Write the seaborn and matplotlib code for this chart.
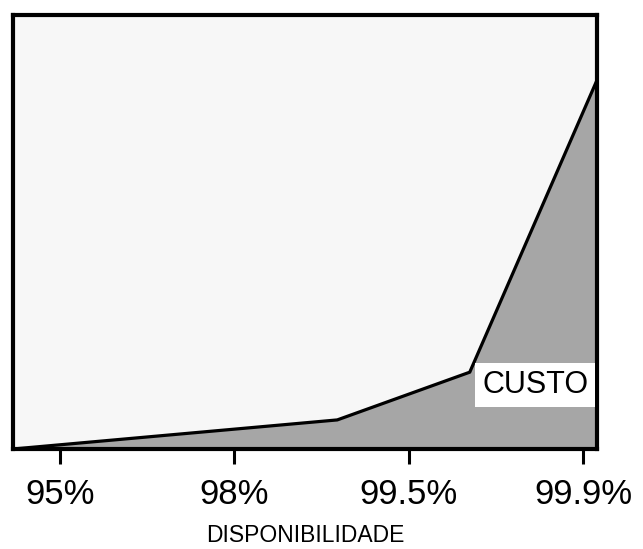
import matplotlib
matplotlib.use("Agg")
import matplotlib.pyplot as plt
import seaborn as sns
import pandas as pd

# Data (x = position along the availability axis, ticks at 0..3)
disponibilidade_pos = [-0.27, 1.59, 2.35, 3.08]
custo = [0.0, 6.7, 17.7, 85.0]
tick_pos = [0, 1, 2, 3]
tick_labels = ["95%", "98%", "99.5%", "99.9%"]

df = pd.DataFrame({"disp": disponibilidade_pos, "custo": custo})

sns.set_theme(style="white")
plt.rcParams["font.family"] = ["Liberation Sans", "DejaVu Sans"]
plt.rcParams["text.color"] = "black"
plt.rcParams["xtick.color"] = "black"
plt.rcParams["axes.labelcolor"] = "black"

fig = plt.figure(figsize=(6.43, 5.49), dpi=100)
ax = fig.add_axes([13/643, 1 - 449/549, (597-13)/643, (449-15)/549])
ax.set_facecolor("#f7f7f7")

ax.fill_between(df["disp"], df["custo"], 0, color="#a6a6a6", linewidth=0)
sns.lineplot(data=df, x="disp", y="custo", ax=ax, color="black", linewidth=2.3,
             estimator=None, sort=False)

ax.set_xlim(-0.27, 3.08)
ax.set_ylim(0, 100)
ax.set_yticks([])
ax.set_xticks(tick_pos)
ax.set_xticklabels(tick_labels, fontsize=25, color="black")
ax.tick_params(axis="x", length=11, width=2.2, color="black", pad=10, bottom=True)
ax.set_ylabel("")
ax.set_xlabel("DISPONIBILIDADE", fontsize=16.5, color="black")
ax.xaxis.set_label_coords(0.5, -0.172)

for s in ax.spines.values():
    s.set_visible(True)
    s.set_color("black")
    s.set_linewidth(3)

ax.text(0.894, 0.147, "CUSTO", transform=ax.transAxes, fontsize=22,
        ha="center", va="center", color="black",
        bbox=dict(facecolor="white", edgecolor="none", pad=5))

fig.savefig("out.png", dpi=100)
